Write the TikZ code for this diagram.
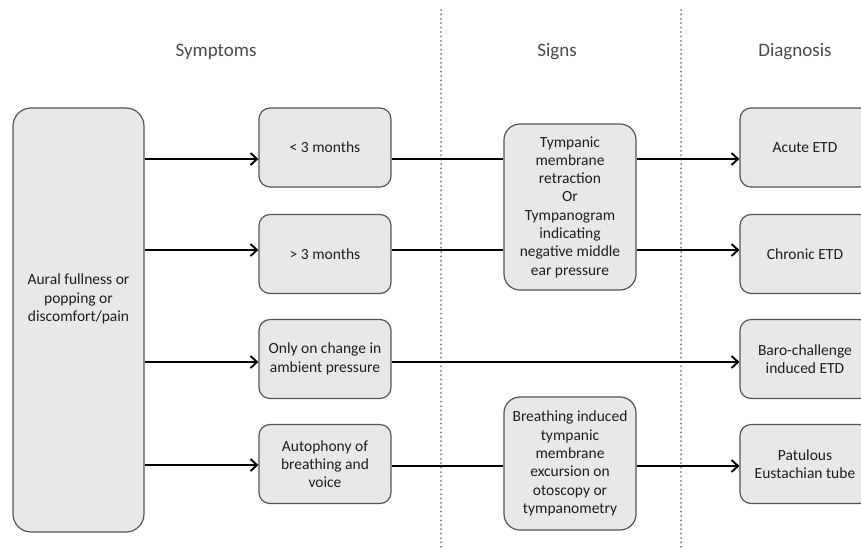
\documentclass[tikz,border=0pt]{standalone}
\usepackage{fontspec}
\setmainfont{Carlito}
\usetikzlibrary{arrows.meta}
\definecolor{boxfill}{HTML}{E8E8E8}
\definecolor{boxdraw}{HTML}{555555}
\definecolor{txt}{HTML}{1E1E1E}
\definecolor{head}{HTML}{4A4A4A}
\definecolor{dots}{HTML}{777777}
\begin{document}
\begin{tikzpicture}[x=1pt,y=-1pt,
  box/.style={draw=boxdraw,fill=boxfill,line width=1.2pt,rounded corners=11pt,
    align=center,text=txt,inner sep=2pt,
    font=\fontsize{15.5}{18.3}\selectfont},
  headtxt/.style={text=head,font=\fontsize{19}{22}\selectfont},
  conn/.style={line width=1.9pt,black},
  arr/.style={conn,-{Straight Barb[length=6.5pt,width=12pt,line width=1.9pt]}},
  sep/.style={dots,line width=2pt,line cap=round,dash pattern=on 0pt off 4.4pt}]
\useasboundingbox (0,0) rectangle (861,547);
\clip (0,0) rectangle (861,547);
\fill[white] (0,0) rectangle (861,547);
% separators
\coordinate (v1t) at (441,10);
\coordinate (v1b) at (441,547);
\coordinate (v2t) at (681,10);
\coordinate (v2b) at (681,547);
\draw[sep] (v1t) -- (v1b);
\draw[sep] (v2t) -- (v2b);
% headers
\node[headtxt] (hsym) at (216,52) {Symptoms};
\node[headtxt] (hsig) at (557,52) {Signs};
\node[headtxt] (hdia) at (795,52) {Diagnosis};
% left box
\node[box,rounded corners=18pt,minimum width=131pt,minimum height=424pt] (L) at (78.5,320) {};
\node[align=center,text=txt,font=\fontsize{15.5}{18.3}\selectfont] (Lt) at (78.5,299) {Aural fullness or\\popping or\\discomfort/pain};
% symptom boxes
\node[box,minimum width=132pt,minimum height=79pt] (s1) at (325,147.5) {{<} 3 months};
\node[box,minimum width=132pt,minimum height=79pt] (s2) at (325,254) {{>} 3 months};
\node[box,minimum width=132pt,minimum height=79pt] (s3) at (325,359) {Only on change in\\ambient pressure};
\node[box,minimum width=132pt,minimum height=79pt] (s4) at (325,464) {Autophony of\\breathing and\\voice};
% signs boxes
\node[box,rounded corners=16pt,minimum width=132pt,minimum height=166pt] (g1) at (570,207) {Tympanic\\membrane\\retraction\\Or\\Tympanogram\\indicating\\negative middle\\ear pressure};
\node[box,rounded corners=16pt,minimum width=132pt,minimum height=133pt] (g2) at (570,463.5) {Breathing induced\\tympanic\\membrane\\excursion on\\otoscopy or\\tympanometry};
% diagnosis boxes
\node[box,minimum width=130pt,minimum height=79pt] (d1) at (805,147.5) {Acute ETD};
\node[box,minimum width=130pt,minimum height=79pt] (d2) at (805,254) {Chronic ETD};
\node[box,minimum width=130pt,minimum height=79pt] (d3) at (805,359) {Baro-challenge\\induced ETD};
\node[box,minimum width=130pt,minimum height=79pt] (d4) at (805,464) {Patulous\\Eustachian tube};
% connectors
\draw[arr] (L.east |- 0,159) -- (s1.west |- 0,159);
\draw[arr] (L.east |- 0,250) -- (s2.west |- 0,250);
\draw[arr] (L.east |- 0,362) -- (s3.west |- 0,362);
\draw[arr] (L.east |- 0,465) -- (s4.west |- 0,465);
\draw[conn] (s1.east |- 0,159) -- (g1.west |- 0,159);
\draw[conn] (s2.east |- 0,250) -- (g1.west |- 0,250);
\draw[conn] (s4.east |- 0,466) -- (g2.west |- 0,466);
\draw[arr] (g1.east |- 0,159) -- (d1.west |- 0,159);
\draw[arr] (g1.east |- 0,250) -- (d2.west |- 0,250);
\draw[arr] (s3.east |- 0,362) -- (d3.west |- 0,362);
\draw[arr] (g2.east |- 0,466) -- (d4.west |- 0,466);
\end{tikzpicture}
\end{document}
